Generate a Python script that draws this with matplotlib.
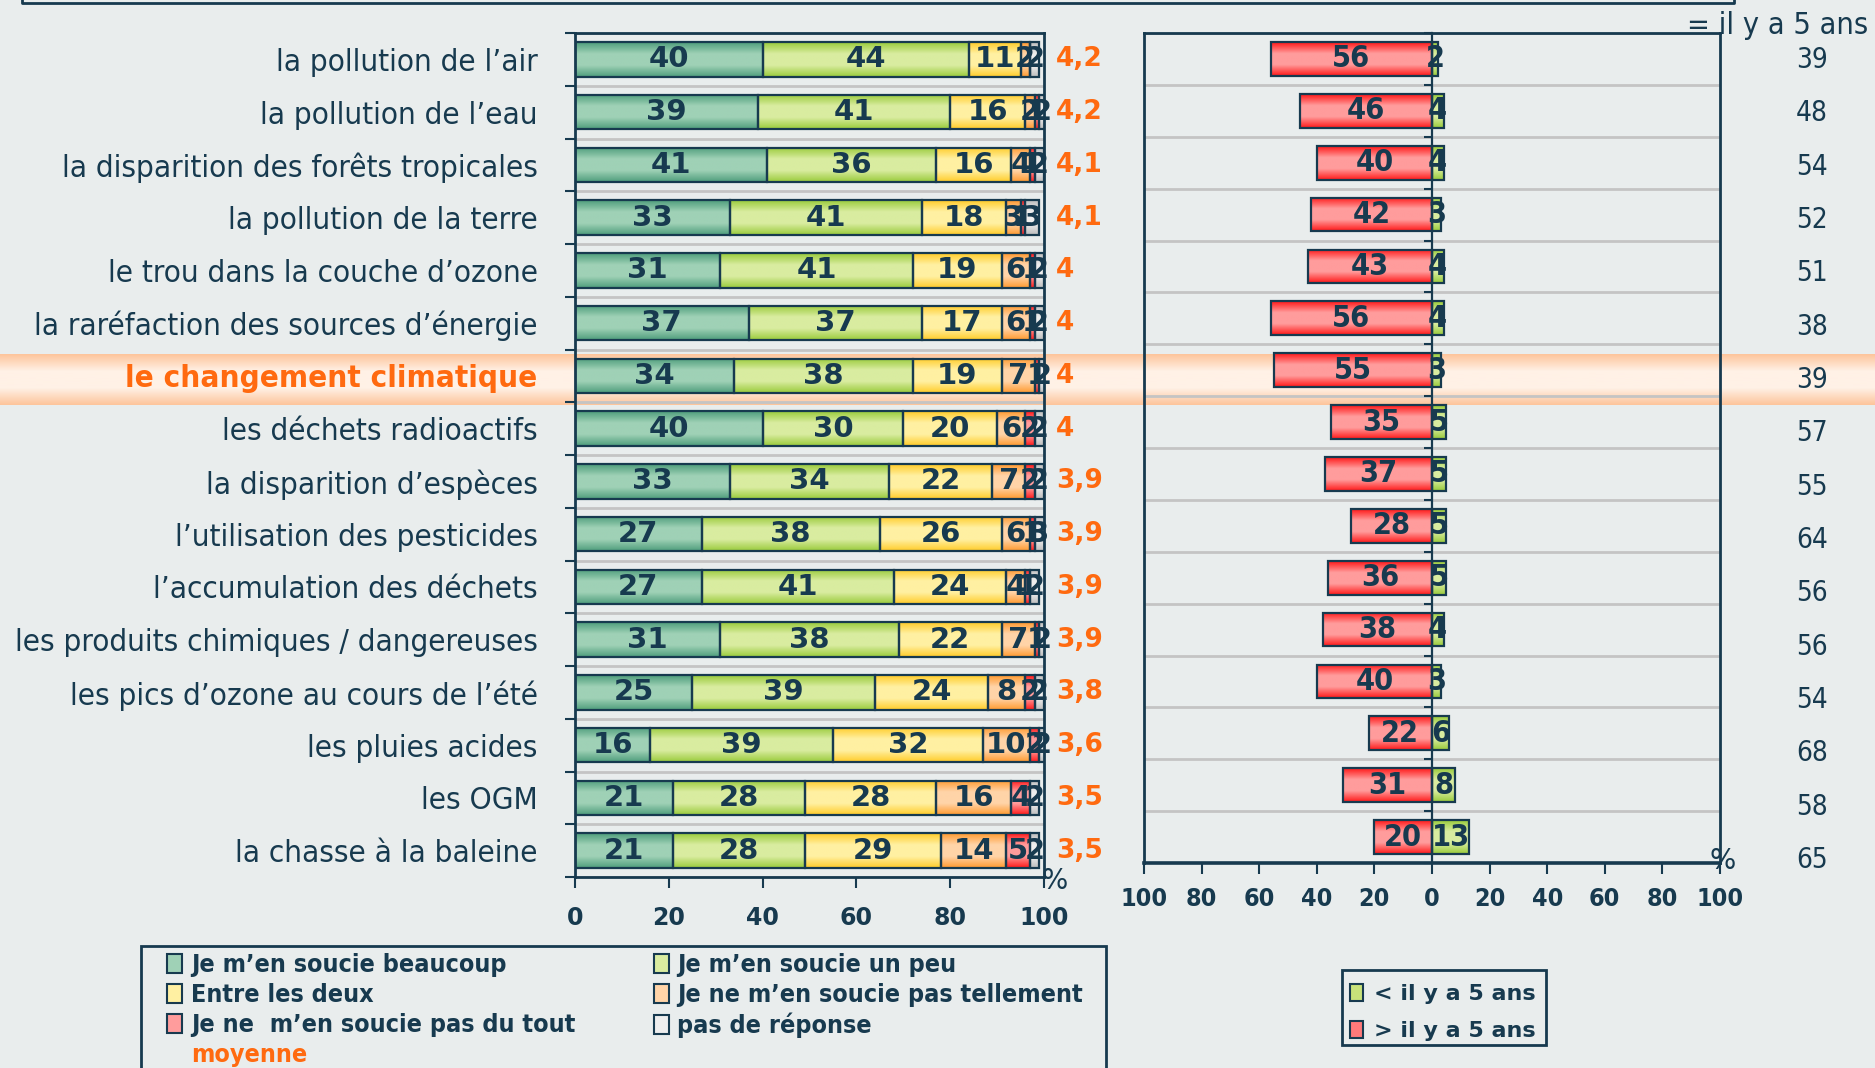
import numpy as np
import matplotlib
matplotlib.use("Agg")
import matplotlib.pyplot as plt
from matplotlib.colors import LinearSegmentedColormap
from matplotlib.patches import Patch, Rectangle
from matplotlib.lines import Line2D

# data
categories = [
    "la pollution de l’air", "la pollution de l’eau", "la disparition des forêts tropicales",
    "la pollution de la terre", "le trou dans la couche d’ozone",
    "la raréfaction des sources d’énergie", "le changement climatique",
    "les déchets radioactifs", "la disparition d’espèces", "l’utilisation des pesticides",
    "l’accumulation des déchets", "les produits chimiques / dangereuses",
    "les pics d’ozone au cours de l’été", "les pluies acides", "les OGM", "la chasse à la baleine",
]
beaucoup      = [40, 39, 41, 33, 31, 37, 34, 40, 33, 27, 27, 31, 25, 16, 21, 21]
un_peu        = [44, 41, 36, 41, 41, 37, 38, 30, 34, 38, 41, 38, 39, 39, 28, 28]
entre_deux    = [11, 16, 16, 18, 19, 17, 19, 20, 22, 26, 24, 22, 24, 32, 28, 29]
pas_tellement = [2, 2, 4, 3, 6, 6, 7, 6, 7, 6, 4, 7, 8, 10, 16, 14]
pas_du_tout   = [0, 1, 1, 1, 1, 1, 1, 2, 2, 1, 1, 1, 2, 2, 4, 5]
sans_reponse  = [2, 2, 2, 3, 2, 2, 2, 2, 2, 3, 2, 2, 2, 2, 2, 2]
moyenne = [4.2, 4.2, 4.1, 4.1, 4.0, 4.0, 4.0, 4.0, 3.9, 3.9, 3.9, 3.9, 3.8, 3.6, 3.5, 3.5]

plus_qu_avant  = [56, 46, 40, 42, 43, 56, 55, 35, 37, 28, 36, 38, 40, 22, 31, 20]   # > il y a 5 ans
moins_qu_avant = [2, 4, 4, 3, 4, 4, 3, 5, 5, 5, 5, 4, 3, 6, 8, 13]                  # < il y a 5 ans
pareil         = [39, 48, 54, 52, 51, 38, 39, 57, 55, 64, 56, 56, 54, 68, 58, 65]   # = il y a 5 ans

highlight = 6

series = [
    ("Je m’en soucie beaucoup", beaucoup, "#4f9e7c", "#9fd1b6"),
    ("Je m’en soucie un peu", un_peu, "#9acb3c", "#d9eca0"),
    ("Entre les deux", entre_deux, "#ffcc2a", "#fff0a2"),
    ("Je ne m’en soucie pas tellement", pas_tellement, "#ff9a30", "#ffd4a8"),
    ("Je ne  m’en soucie pas du tout", pas_du_tout, "#ff1a1a", "#ff9c9c"),
    ("pas de réponse", sans_reponse, "#bdbdbd", "#eeeeee"),
]

navy = "#173a4f"
orange = "#ff6a10"
bg = "#e9eded"
grid_c = "#c4c4c4"

W, H = 1875, 1068
fig = plt.figure(figsize=(W / 100, H / 100), dpi=100, facecolor=bg)

grad = np.linspace(0, 1, 64).reshape(-1, 1)


def fill_gradient(ax, bars, edge, centre):
    cmap = LinearSegmentedColormap.from_list("g", [edge, centre, centre, edge])
    for p in bars:
        x0, y0, w, h = p.get_x(), p.get_y(), p.get_width(), p.get_height()
        if w == 0:
            continue
        ax.imshow(grad, cmap=cmap, extent=(x0, x0 + w, y0, y0 + h), aspect="auto",
                  zorder=2, interpolation="bilinear")


n = len(categories)
y = np.arange(n)

L_pos = [575 / W, 1 - 877 / H, 469 / W, 844 / H]
R_pos = [1144 / W, 1 - 863 / H, 576 / W, 830 / H]

# highlight band behind everything
band = fig.add_axes([0, 1 - 405 / H, 1, 51 / H], zorder=0)
band.imshow(grad, cmap=LinearSegmentedColormap.from_list("b", ["#fdc59c", "#fff1e6", "#fff1e6", "#fdc59c"]),
            aspect="auto", extent=(0, 1, 0, 1), interpolation="bilinear")
band.axis("off")

# ---------- left panel
ax = fig.add_axes(L_pos, zorder=1)
ax.set_facecolor("none")
left = np.zeros(n)
for name, vals, edge, centre in series:
    bars = ax.barh(y, vals, left=left, height=0.65, facecolor="none", edgecolor=navy,
                   linewidth=1.6, zorder=3)
    fill_gradient(ax, bars, edge, centre)
    ax.bar_label(bars, labels=[str(v) if v else "" for v in vals], label_type="center",
                 fontsize=21, fontweight="bold", color=navy, zorder=4)
    left += np.array(vals)

ax.set_xlim(0, 100)
ax.set_ylim(n - 0.5, -0.5)
ax.set_xticks(np.arange(0, 101, 20))
ax.set_xticklabels([str(t) for t in range(0, 101, 20)], fontsize=17, fontweight="bold", color=navy)
ax.tick_params(axis="x", direction="out", length=8, width=1.5, color=navy, pad=13)
ax.set_yticks(np.arange(-0.5, n, 1))
ax.set_yticklabels([])
ax.tick_params(axis="y", which="major", direction="out", length=7, width=1.5, color=navy)
ax.set_yticks(y, labels=categories, minor=True)
ax.tick_params(axis="y", which="minor", length=0, pad=27, labelsize=22.5, labelcolor=navy)
for i, lbl in enumerate(ax.get_yticklabels(minor=True)):
    lbl.set_fontstretch("condensed")
    if i == highlight:
        lbl.set_color(orange)
        lbl.set_fontweight("bold")
ax.grid(axis="y", which="major", color=grid_c, linewidth=2)
ax.set_axisbelow(True)
for s in ax.spines.values():
    s.set_color(navy)
    s.set_linewidth(2)

ytr = ax.get_yaxis_transform()
for i, m in enumerate(moyenne):
    ax.text(1.025, i, f"{m:g}".replace(".", ","), transform=ytr, ha="left", va="center",
            fontsize=19, fontweight="bold", color=orange)
ax.text(1.022, -0.005, "%", transform=ax.transAxes, ha="center", va="center", fontsize=20, color=navy)

# ---------- right panel
ax2 = fig.add_axes(R_pos, zorder=1)
ax2.set_facecolor("none")
red = ax2.barh(y, -np.array(plus_qu_avant), height=0.65, facecolor="none", edgecolor=navy,
               linewidth=1.6, zorder=3)
fill_gradient(ax2, red, "#ff1a1a", "#ff9c9c")
green = ax2.barh(y, moins_qu_avant, height=0.65, facecolor="none", edgecolor=navy,
                 linewidth=1.6, zorder=3)
fill_gradient(ax2, green, "#9acb3c", "#d9eca0")
cond_bold = dict(fontsize=22, fontweight="bold", color=navy, fontstretch="condensed")
ax2.bar_label(red, labels=[str(v) for v in plus_qu_avant], label_type="center", zorder=4, **cond_bold)
ax2.bar_label(green, labels=[str(v) for v in moins_qu_avant], label_type="center", zorder=4, **cond_bold)

ax2.set_xlim(-100, 100)
ax2.set_ylim(n - 0.5, -0.5)
xt = np.arange(-100, 101, 20)
ax2.set_xticks(xt)
ax2.set_xticklabels([str(abs(t)) for t in xt], fontsize=18, fontweight="bold", color=navy,
                    fontstretch="condensed")
ax2.tick_params(axis="x", direction="out", length=8, width=1.5, color=navy, pad=9)
ax2.set_yticks(np.arange(-0.5, n, 1))
ax2.set_yticklabels([])
ax2.tick_params(axis="y", direction="out", length=6, width=1.5, color=navy)
ax2.spines["left"].set_position(("data", 0))
ax2.axvline(-100, color=navy, linewidth=2, clip_on=False, zorder=5)
ax2.grid(axis="y", color=grid_c, linewidth=2)
ax2.set_axisbelow(True)
for s in ax2.spines.values():
    s.set_color(navy)
    s.set_linewidth(2)
ax2.spines["left"].set_linewidth(1.6)
ax2.spines["bottom"].set_linewidth(2.6)
ax2.text(1.004, 0.002, "%", transform=ax2.transAxes, ha="center", va="center", fontsize=20, color=navy)

# "= il y a 5 ans" column
col_y = np.linspace(1 - 60 / H, 1 - 860 / H, n)
for yy, v in zip(col_y, pareil):
    fig.text(1812 / W, yy, str(v), ha="center", va="center",
             fontsize=20, color=navy, fontstretch="condensed")
fig.text(1778 / W, 1 - 25 / H, "= il y a 5 ans", ha="center", va="center", fontsize=22,
         color=navy, fontstretch="condensed")

# frame edge of the title box above
fig.add_artist(Line2D([22 / W, 22 / W, 1734 / W, 1734 / W], [1.01, 1 - 3 / H, 1 - 3 / H, 1.01],
                      transform=fig.transFigure, color=navy, linewidth=2))

# ---------- legends (frames drawn separately)
fig.add_artist(Rectangle((141 / W, -0.05), 965 / W, 1 - 946 / H + 0.05, transform=fig.transFigure,
                         fill=True, facecolor=bg, edgecolor=navy, linewidth=2, zorder=2))
h1 = [Patch(facecolor=c, edgecolor=navy, linewidth=1.5) for _, _, _, c in series]
labels1 = [s[0] for s in series]
handles = [h1[0], h1[2], h1[4], Patch(facecolor="none", edgecolor="none"), h1[1], h1[3], h1[5]]
labs = [labels1[0], labels1[2], labels1[4], "moyenne", labels1[1], labels1[3], labels1[5]]
leg = fig.legend(handles, labs, ncol=2, loc="upper left",
                 bbox_to_anchor=(167 / W, 1 - 953 / H, 916 / W, 0.0), mode="expand",
                 prop=dict(family="DejaVu Sans", weight="bold", stretch="condensed", size=18),
                 handlelength=0.6, handleheight=0.8, handletextpad=0.35, labelspacing=0.24,
                 borderpad=0, borderaxespad=0, frameon=False)
leg.set_zorder(3)
for t in leg.get_texts():
    t.set_color(navy)
leg.get_texts()[3].set_color(orange)

fig.add_artist(Rectangle((1342 / W, 1 - 1045 / H), 204 / W, 75 / H, transform=fig.transFigure,
                         fill=True, facecolor=bg, edgecolor=navy, linewidth=2, zorder=2))
leg2 = fig.legend([Patch(facecolor="#c8e27a", edgecolor=navy, linewidth=1.5),
                   Patch(facecolor="#ff7a7a", edgecolor=navy, linewidth=1.5)],
                  ["< il y a 5 ans", "> il y a 5 ans"], loc="upper left",
                  bbox_to_anchor=(1350 / W, 1 - 984 / H),
                  prop=dict(weight="bold", size=16), handlelength=0.6, handleheight=0.8,
                  handletextpad=0.5, labelspacing=0.75, borderpad=0, borderaxespad=0,
                  frameon=False)
leg2.set_zorder(3)
for t in leg2.get_texts():
    t.set_color(navy)

fig.savefig("out.png", dpi=100, facecolor=bg)
